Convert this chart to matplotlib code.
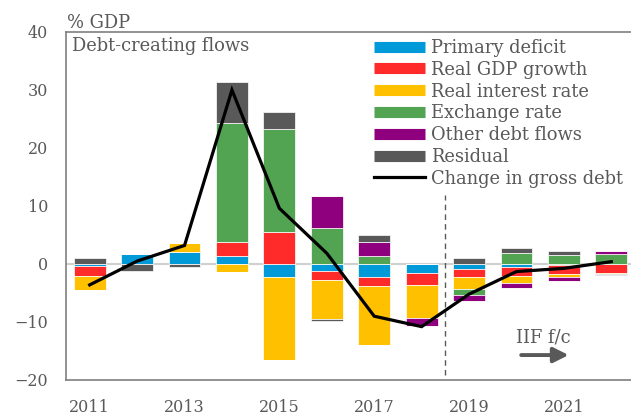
import numpy as np
import matplotlib
matplotlib.use("Agg")
import matplotlib.pyplot as plt
from matplotlib.lines import Line2D

plt.rcParams['font.family'] = ['DejaVu Serif']

years = [2011, 2012, 2013, 2014, 2015, 2016, 2017, 2018, 2019, 2020, 2021, 2022]

primary_deficit = [-0.4, 1.7, 2.0, 1.4, -2.2, -1.2, -2.2, -1.6, -0.85, -0.45, -0.2, 0.0]
real_gdp_growth = [-1.7, 0.0, 0.0, 2.45, 5.45, -1.55, -1.55, -2.0, -1.4, -1.6, -1.5, -1.55]
real_interest_rate = [-2.4, 0.0, 1.7, -1.4, -14.35, -6.75, -10.2, -5.77, -2.1, -1.25, -0.6, -0.1]
exchange_rate = [0.0, 0.0, 0.0, 20.45, 17.75, 6.26, 1.44, 0.0, -0.95, 1.84, 1.55, 1.72]
other_debt_flows = [0.0, 0.0, 0.0, 0.0, 0.0, 5.45, 2.3, -1.38, -1.0, -0.9, -0.55, 0.48]
residual = [1.0, -1.2, -0.5, 7.0, 2.95, -0.35, 1.26, 0.0, 1.05, 1.0, 0.65, -0.25]
change_in_gross_debt = [-3.6, 0.5, 3.2, 30.0, 9.6, 1.85, -9.0, -10.8, -5.2, -1.3, -0.75, 0.4]

series = [
    ("Primary deficit", primary_deficit, "#009ad9"),
    ("Real GDP growth", real_gdp_growth, "#ff2a2a"),
    ("Real interest rate", real_interest_rate, "#ffc000"),
    ("Exchange rate", exchange_rate, "#52a352"),
    ("Other debt flows", other_debt_flows, "#8e007e"),
    ("Residual", residual, "#595959"),
]

text_col = "#595959"
fs_tick = 11.5
fs_text = 12.9

fig = plt.figure(figsize=(6.31, 4.16), dpi=100)
ax = fig.add_axes([66 / 631, 36 / 416, 569 / 631, 348 / 416])

x = np.array(years, dtype=float)
pos_base = np.zeros(len(years))
neg_base = np.zeros(len(years))
for name, vals, col in series:
    v = np.array(vals, dtype=float)
    pos = np.where(v > 0, v, 0)
    neg = np.where(v < 0, v, 0)
    ax.bar(x, pos, bottom=pos_base, width=0.67, color=col,
           edgecolor="white", linewidth=0.5, zorder=2)
    ax.bar(x, neg, bottom=neg_base, width=0.67, color=col,
           edgecolor="white", linewidth=0.5, zorder=2)
    pos_base += pos
    neg_base += neg

ax.axhline(0, color="#d0d0d0", linewidth=1.5, zorder=1)
ax.plot(x, change_in_gross_debt, color="black", linewidth=2.3, zorder=3,
        solid_joinstyle="miter")

# forecast divider
ax.plot([2018.5, 2018.5], [-19.1, 11.9], color=text_col, linewidth=1.0,
        linestyle=(0, (4, 3)), zorder=1)

ax.set_xlim(2010.5, 2022.5)
ax.set_ylim(-20, 40)
ax.set_yticks(range(-20, 41, 10))
ax.set_xticks([2011, 2013, 2015, 2017, 2019, 2021])
ax.tick_params(axis="both", length=0, labelsize=fs_tick, colors=text_col)
ax.tick_params(axis="x", pad=14)
ax.tick_params(axis="y", pad=13)

for side in ("left", "bottom", "top"):
    ax.spines[side].set_color("#7f7f7f")
    ax.spines[side].set_linewidth(1.2)
ax.spines["right"].set_visible(False)

fig.text(67 / 631, 1 - 28 / 416, "% GDP", fontsize=fs_text, color=text_col,
         ha="left", va="baseline")
fig.text(72 / 631, 1 - 51 / 416, "Debt-creating flows",
         fontsize=fs_text, color=text_col, ha="left", va="baseline")

ax.text(2019.98, -12.6, "IIF f/c", fontsize=fs_text, color=text_col,
        ha="left", va="center")
ax.annotate("", xy=(2021.1, -15.7), xytext=(2020.1, -15.7),
            arrowprops=dict(arrowstyle="-|>,head_length=0.9,head_width=0.45",
                            color=text_col, lw=2.8, shrinkA=0, shrinkB=0))

handles = [Line2D([0], [0], color=c, linewidth=8, solid_capstyle="butt")
           for _, _, c in series]
handles.append(Line2D([0], [0], color="black", linewidth=2.3))
labels = [n for n, _, _ in series] + ["Change in gross debt"]
leg = ax.legend(handles, labels, loc="upper left",
                bbox_to_anchor=(374 / 631, 1 - 39 / 416),
                bbox_transform=fig.transFigure,
                frameon=False, fontsize=fs_text, handlelength=2.86,
                handletextpad=0.32, labelspacing=0.21, borderpad=0,
                borderaxespad=0)
for t in leg.get_texts():
    t.set_color(text_col)

fig.savefig("out.png", dpi=100)
